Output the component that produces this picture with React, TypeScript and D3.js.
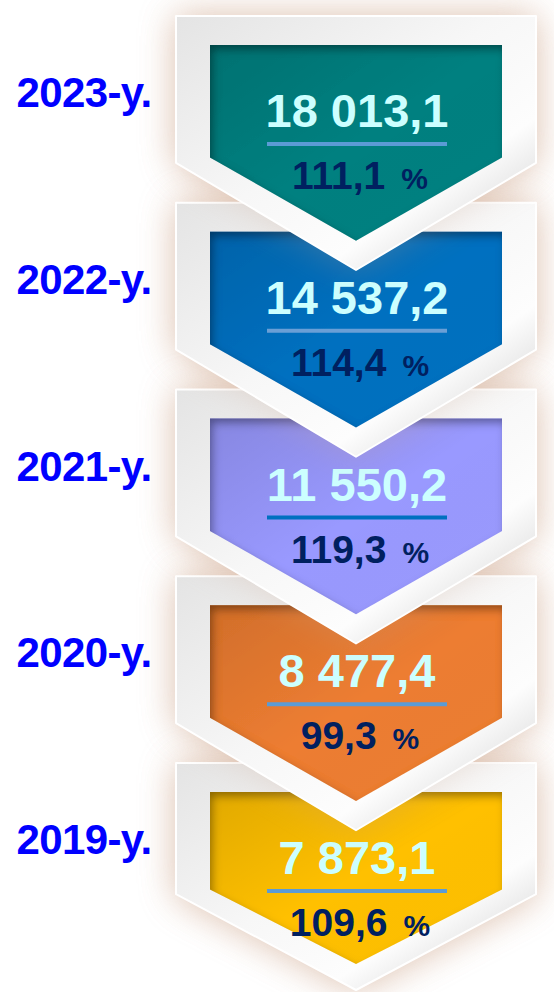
import React from "react";
import * as d3 from "d3";

const years = ["2023-y.", "2022-y.", "2021-y.", "2020-y.", "2019-y."];
const values = [18013.1, 14537.2, 11550.2, 8477.4, 7873.1];
const growth = [111.1, 114.4, 119.3, 99.3, 109.6];
const fills = ["#008080", "#0070c0", "#9999ff", "#ed7d31", "#ffc000"];
const ruleColors = ["#5b9bd5", "#6a9fd6", "#0070c0", "#5b9bd5", "#5b9bd5"];

const W = 554;
const H = 992;
const FONT = "'Liberation Sans', Arial, Helvetica, sans-serif";

const locale = d3.formatLocale({
  decimal: ",",
  thousands: " ",
  grouping: [3],
  currency: ["", ""],
});
const fmtValue = locale.format(",.1f");
const fmtPct = locale.format(".1f");

export default function App() {
  const rowTop = d3.scalePoint<string>().domain(years).range([16, 763]);
  const cx = 356;
  const ho = 180;
  const hi = 146;

  const rows = years.map((y, i) => {
    const T = rowTop(y) as number;
    const h = Math.min(254, H - 2 - T);
    const outer = d3.path();
    outer.moveTo(cx - ho, T);
    outer.lineTo(cx + ho, T);
    outer.lineTo(cx + ho, T + 0.578 * h);
    outer.lineTo(cx, T + h);
    outer.lineTo(cx - ho, T + 0.578 * h);
    outer.closePath();
    const inner = d3.path();
    inner.moveTo(cx - hi, T + 29);
    inner.lineTo(cx + hi, T + 29);
    inner.lineTo(cx + hi, T + 0.557 * h);
    inner.lineTo(cx, T + 0.885 * h);
    inner.lineTo(cx - hi, T + 0.557 * h);
    inner.closePath();
    return { y, i, T, h, outer: outer.toString(), inner: inner.toString() };
  });

  const drawOrder = [...rows].reverse();

  return (
    <svg
      width={W}
      height={H}
      viewBox={`0 0 ${W} ${H}`}
      style={{ position: "absolute", left: 0, top: 0, display: "block", background: "#ffffff" }}
    >
      <defs>
        <filter id="softShadow" x="-40%" y="-40%" width="180%" height="180%">
          <feGaussianBlur stdDeviation="18" />
        </filter>
        <filter id="inset" x="-10%" y="-10%" width="120%" height="120%">
          <feFlood floodColor="#000" floodOpacity="0.65" result="flood" />
          <feComposite in="flood" in2="SourceAlpha" operator="out" result="outside" />
          <feGaussianBlur in="outside" stdDeviation="4" result="blur" />
          <feOffset in="blur" dx="3" dy="5" result="off" />
          <feComposite in="off" in2="SourceAlpha" operator="in" result="shadow" />
          <feMerge>
            <feMergeNode in="SourceGraphic" />
            <feMergeNode in="shadow" />
          </feMerge>
        </filter>
        <linearGradient id="frameGrad" x1="0" y1="0" x2="1" y2="1">
          <stop offset="0" stopColor="#e4e4e4" />
          <stop offset="0.45" stopColor="#f7f7f7" />
          <stop offset="0.7" stopColor="#fdfdfd" />
          <stop offset="0.85" stopColor="#e0e0e0" />
          <stop offset="1" stopColor="#f2f2f2" />
        </linearGradient>
        <linearGradient id="sheen" x1="0" y1="0" x2="1" y2="1">
          <stop offset="0" stopColor="#000" stopOpacity="0.12" />
          <stop offset="0.5" stopColor="#000" stopOpacity="0" />
          <stop offset="1" stopColor="#fff" stopOpacity="0.04" />
        </linearGradient>
      </defs>

      <rect x={0} y={0} width={W} height={H} fill="#ffffff" />

      {drawOrder.map((r) => (
        <path
          key={"s" + r.y}
          d={r.outer}
          fill="#d6b097"
          opacity={0.55}
          filter="url(#softShadow)"
        />
      ))}

      {drawOrder.map((r) => (
        <g key={r.y}>
          <path d={r.outer} fill="#c8a088" opacity={0.3} filter="url(#softShadow)" />
          <path
            d={r.outer}
            fill="url(#frameGrad)"
            stroke="#ffffff"
            strokeWidth={2}
            strokeLinejoin="round"
          />
          <g filter="url(#inset)">
            <path d={r.inner} fill={fills[r.i]} />
            <path d={r.inner} fill="url(#sheen)" />
          </g>
          <text
            x={357}
            y={r.T + 111}
            textAnchor="middle"
            fontFamily={FONT}
            fontWeight="bold"
            fontSize={47}
            fill="#ccffff"
          >
            {fmtValue(values[r.i])}
          </text>
          <line
            x1={357 - 90}
            x2={357 + 90}
            y1={r.T + 128}
            y2={r.T + 128}
            stroke={ruleColors[r.i]}
            strokeWidth={4}
          />
          <text
            x={360}
            y={r.T + 173}
            textAnchor="middle"
            fontFamily={FONT}
            fontWeight="bold"
            fontSize={39}
            fill="#002060"
          >
            {fmtPct(growth[r.i])}
            <tspan dx={16} fontSize={30}>
              %
            </tspan>
          </text>
          <text
            x={84}
            y={r.T + 91}
            textAnchor="middle"
            fontFamily={FONT}
            fontWeight="bold"
            fontSize={42}
            letterSpacing={-0.6}
            fill="#0000ff"
          >
            {r.y}
          </text>
        </g>
      ))}
    </svg>
  );
}
